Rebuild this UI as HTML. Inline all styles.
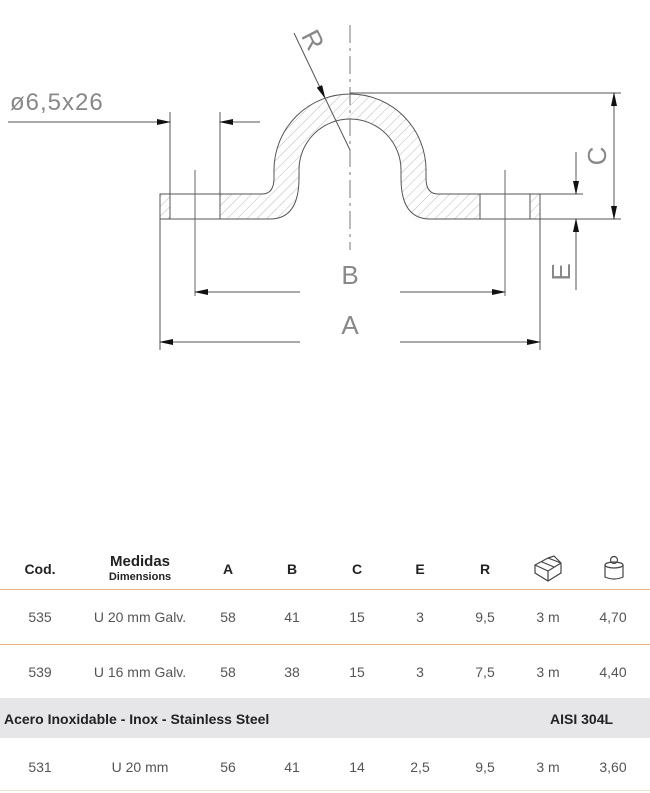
<!DOCTYPE html>
<html><head><meta charset="utf-8"><style>
body{margin:0;width:650px;height:793px;background:#fff;overflow:hidden;position:relative;font-family:"Liberation Sans",Arial,sans-serif;}
svg{position:absolute;left:0;top:0}
.t{position:absolute;font-size:14px;color:#555;text-align:center;transform:translateX(-50%);white-space:nowrap}
.h{font-weight:bold;color:#222}
.ln{position:absolute;left:0;width:650px;height:1px;background:#e8b77c}
</style></head><body>
<svg width="650" height="540" viewBox="0 0 650 540">
<defs>
<pattern id="hat" width="7" height="7" patternUnits="userSpaceOnUse" patternTransform="rotate(45)">
<line x1="0" y1="0" x2="0" y2="7" stroke="#bbb" stroke-width="1"/>
</pattern>
<marker id="ar" markerWidth="14" markerHeight="6" refX="13" refY="3" orient="auto" markerUnits="userSpaceOnUse">
<path d="M0,0 L14,3 L0,6z" fill="#111"/></marker>
</defs>
<g stroke="#555" stroke-width="1" fill="none">
<path d="M160,194 H262 Q274,194 274,178 V170 A76,76 0 0 1 426,170 V178 Q426,194 438,194 H540 V219 H430 Q401,219 401,178 V170 A51,51 0 0 0 299,170 V178 Q299,219 270,219 H160 Z" fill="url(#hat)"/>
<rect x="170.5" y="194.5" width="49" height="24" fill="#fff" stroke="none"/>
<rect x="480.5" y="194.5" width="49" height="24" fill="#fff" stroke="none"/>
<line x1="170" y1="194" x2="220" y2="194"/><line x1="170" y1="219" x2="220" y2="219"/>
<line x1="480" y1="194" x2="530" y2="194"/><line x1="480" y1="219" x2="530" y2="219"/>
<line x1="170" y1="112" x2="170" y2="219"/><line x1="220" y1="112" x2="220" y2="219"/>
<line x1="480" y1="194" x2="480" y2="219"/><line x1="530" y1="194" x2="530" y2="219"/>
<line x1="195" y1="170" x2="195" y2="296" stroke="#666"/>
<line x1="505" y1="170" x2="505" y2="296" stroke="#666"/>
<line x1="350" y1="25" x2="350" y2="250" stroke="#777" stroke-dasharray="18,5,3,5"/>
<line x1="8" y1="122" x2="170" y2="122" marker-end="url(#ar)"/>
<line x1="260" y1="122" x2="220" y2="122" marker-end="url(#ar)"/>
<line x1="294" y1="33" x2="325" y2="98" marker-end="url(#ar)"/>
<line x1="325" y1="98" x2="350" y2="150"/>
<line x1="300" y1="292" x2="195" y2="292" marker-end="url(#ar)"/>
<line x1="400" y1="292" x2="505" y2="292" marker-end="url(#ar)"/>
<line x1="160" y1="219" x2="160" y2="350"/><line x1="540" y1="219" x2="540" y2="350"/>
<line x1="300" y1="342" x2="160" y2="342" marker-end="url(#ar)"/>
<line x1="400" y1="342" x2="540" y2="342" marker-end="url(#ar)"/>
<line x1="350" y1="93" x2="621" y2="93"/>
<line x1="540" y1="219" x2="621" y2="219"/>
<line x1="540" y1="194" x2="583" y2="194"/>
<line x1="614" y1="150" x2="614" y2="93" marker-end="url(#ar)"/>
<line x1="614" y1="150" x2="614" y2="219" marker-end="url(#ar)"/>
<line x1="576" y1="152" x2="576" y2="194" marker-end="url(#ar)"/>
<line x1="576" y1="290" x2="576" y2="219" marker-end="url(#ar)"/>
</g>
<g fill="#888" font-family="Liberation Sans, sans-serif" font-size="26">
<text x="10" y="110" font-size="24" letter-spacing="1">ø6,5x26</text>
<text x="350" y="284" text-anchor="middle">B</text>
<text x="350" y="334" text-anchor="middle">A</text>
<text transform="translate(606,156) rotate(-90)" text-anchor="middle">C</text>
<text transform="translate(570,272) rotate(-90)" text-anchor="middle">E</text>
<text transform="translate(305,44) rotate(63)" text-anchor="middle">R</text>
</g>
</svg>

<div class="t h" style="left:40px;top:561px;font-size:14px">Cod.</div>
<div class="t h" style="left:140px;top:553px;font-size:15px">Medidas</div>
<div class="t h" style="left:140px;top:571px;font-size:11px">Dimensions</div>
<div class="t h" style="left:228px;top:561px">A</div>
<div class="t h" style="left:292px;top:561px">B</div>
<div class="t h" style="left:357px;top:561px">C</div>
<div class="t h" style="left:420px;top:561px">E</div>
<div class="t h" style="left:485px;top:561px">R</div>
<svg style="left:532px;top:553px" width="32" height="32" viewBox="0 0 32 32" fill="none" stroke="#444" stroke-width="1.2">
<path d="M3,12 L16,5 L29,10 L29,20 L16,28 L3,20 Z M3,12 L16,18 L29,10 M16,18 V28 M9,8.5 L22,14 M16,5 L22,3 L29,10"/></svg>
<svg style="left:602px;top:553px" width="24" height="30" viewBox="0 0 24 30" fill="none" stroke="#444" stroke-width="1.2">
<ellipse cx="12" cy="12" rx="9" ry="3"/><path d="M3,12 V24 Q12,28 21,24 V12"/><circle cx="12" cy="7" r="3.5"/></svg>
<div class="ln" style="top:589px"></div>

<div class="t" style="left:40px;top:609px">535</div>
<div class="t" style="left:140px;top:609px">U 20 mm Galv.</div>
<div class="t" style="left:228px;top:609px">58</div>
<div class="t" style="left:292px;top:609px">41</div>
<div class="t" style="left:357px;top:609px">15</div>
<div class="t" style="left:420px;top:609px">3</div>
<div class="t" style="left:485px;top:609px">9,5</div>
<div class="t" style="left:548px;top:609px">3 m</div>
<div class="t" style="left:613px;top:609px">4,70</div>
<div class="ln" style="top:644px"></div>

<div class="t" style="left:40px;top:664px">539</div>
<div class="t" style="left:140px;top:664px">U 16 mm Galv.</div>
<div class="t" style="left:228px;top:664px">58</div>
<div class="t" style="left:292px;top:664px">38</div>
<div class="t" style="left:357px;top:664px">15</div>
<div class="t" style="left:420px;top:664px">3</div>
<div class="t" style="left:485px;top:664px">7,5</div>
<div class="t" style="left:548px;top:664px">3 m</div>
<div class="t" style="left:613px;top:664px">4,40</div>

<div style="position:absolute;left:0;top:698px;width:650px;height:40px;background:#e6e6e8"></div>
<div class="h" style="position:absolute;left:4px;top:711px;font-size:14px">Acero Inoxidable - Inox - Stainless Steel</div>
<div class="h" style="position:absolute;left:550px;top:711px;font-size:14px">AISI 304L</div>

<div class="t" style="left:40px;top:759px">531</div>
<div class="t" style="left:140px;top:759px">U 20 mm</div>
<div class="t" style="left:228px;top:759px">56</div>
<div class="t" style="left:292px;top:759px">41</div>
<div class="t" style="left:357px;top:759px">14</div>
<div class="t" style="left:420px;top:759px">2,5</div>
<div class="t" style="left:485px;top:759px">9,5</div>
<div class="t" style="left:548px;top:759px">3 m</div>
<div class="t" style="left:613px;top:759px">3,60</div>
<div class="ln" style="top:790px;background:#f0e0d0"></div>
</body></html>
